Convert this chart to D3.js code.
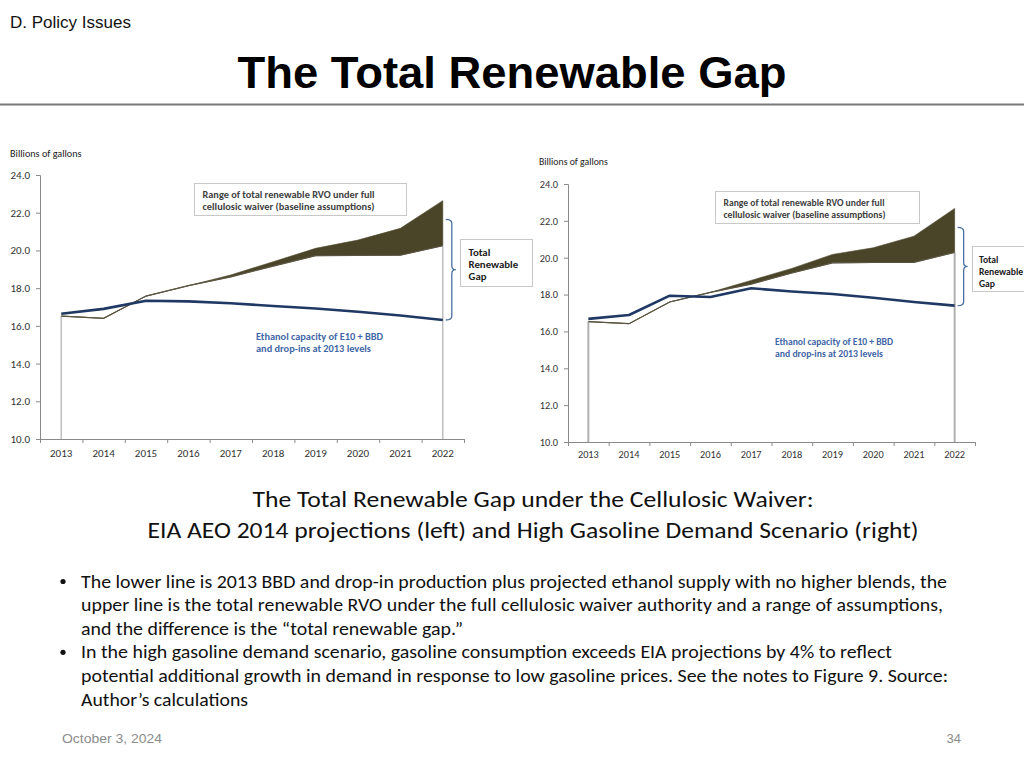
<!DOCTYPE html>
<html><head><meta charset="utf-8">
<script src="https://cdn.jsdelivr.net/npm/d3@7"></script>
<style>body{margin:0;background:#fff} svg{display:block}</style>
</head><body>
<svg id="c" width="1024" height="768"></svg>
<script>
// ---------- data ----------
const years = [2013, 2014, 2015, 2016, 2017, 2018, 2019, 2020, 2021, 2022];
const yTicks = [10, 12, 14, 16, 18, 20, 22, 24];

// Left: EIA AEO 2014 projections
const leftCapacity = [16.64, 16.90, 17.33, 17.30, 17.20, 17.05, 16.92, 16.75, 16.55, 16.31];
const leftRvoLow   = [16.52, 16.40, 17.58, 18.13, 18.60, 19.17, 19.72, 19.74, 19.75, 20.25];
const leftRvoHigh  = [16.52, 16.40, 17.58, 18.13, 18.70, 19.40, 20.11, 20.55, 21.17, 22.64];

// Right: High Gasoline Demand Scenario
const rightCapacity = [16.68, 16.89, 17.94, 17.87, 18.34, 18.17, 18.03, 17.83, 17.60, 17.40];
const rightRvoLow   = [16.53, 16.42, 17.60, 18.12, 18.57, 19.17, 19.72, 19.74, 19.75, 20.29];
const rightRvoHigh  = [16.53, 16.42, 17.60, 18.12, 18.77, 19.42, 20.18, 20.54, 21.17, 22.67];

const gapTopValue = 21.65;

const yAxisTitle = "Billions of gallons";
const rangeNote = ["Range of total renewable RVO under full", "cellulosic waiver (baseline assumptions)"];
const capacityNote = ["Ethanol capacity of E10 + BBD", "and drop-ins at 2013 levels"];
const gapNote = ["Total", "Renewable", "Gap"];

const sectionLabel = "D. Policy Issues";
const slideTitle = "The Total Renewable Gap";
const captionLines = [
  "The Total Renewable Gap under the Cellulosic Waiver:",
  "EIA AEO 2014 projections (left) and High Gasoline Demand Scenario (right)"
];
const bulletLines = [
  "The lower line is 2013 BBD and drop-in production plus projected ethanol supply with no higher blends, the",
  "upper line is the total renewable RVO under the full cellulosic waiver authority and a range of assumptions,",
  "and the difference is the \u201ctotal renewable gap.\u201d",
  "In the high gasoline demand scenario, gasoline consumption exceeds EIA projections by 4% to reflect",
  "potential additional growth in demand in response to low gasoline prices. See the notes to Figure 9. Source:",
  "Author\u2019s calculations"
];
const bulletStarts = [0, 3];
const footerDate = "October 3, 2024";
const pageNumber = "34";

// ---------- drawing ----------
const svg = d3.select("#c");
const chartFont = "Carlito, Lato, 'Open Sans', sans-serif";
const slideFont = "'Liberation Sans', Arial, Helvetica, sans-serif";

svg.append("text").attr("x", 10).attr("y", 28).attr("font-family", slideFont)
  .attr("font-size", 16).attr("textLength", 121).attr("lengthAdjust", "spacingAndGlyphs")
  .attr("fill", "#111").text(sectionLabel);
svg.append("text").attr("x", 512).attr("y", 88).attr("text-anchor", "middle")
  .attr("font-family", slideFont).attr("font-weight", "bold").attr("font-size", 45)
  .attr("textLength", 549).attr("lengthAdjust", "spacingAndGlyphs")
  .attr("fill", "#000").text(slideTitle);
svg.append("line").attr("x1", 0).attr("x2", 1024).attr("y1", 104.5).attr("y2", 104.5)
  .attr("stroke", "#7a7a7a").attr("stroke-width", 2);

function bracePath(x0, yTop, yBot, w) {
  const xm = x0 + w * 0.6, ym = (yTop + yBot) / 2;
  return `M${x0},${yTop} Q${xm},${yTop} ${xm},${yTop + 4} L${xm},${ym - 4} Q${xm},${ym} ${x0 + w},${ym}` +
         ` Q${xm},${ym} ${xm},${ym + 4} L${xm},${yBot - 4} Q${xm},${yBot} ${x0},${yBot}`;
}

function drawPanel(cfg, cap, low, high) {
  const x = d3.scaleBand().domain(years).range([cfg.x0, cfg.x1]);
  const xb = d3.scaleLinear().domain([0, years.length]).range([cfg.x0, cfg.x1]);
  const y = d3.scaleLinear().domain([10, 24]).range([cfg.yb, cfg.yt]);
  const cx = d => x(d) + x.bandwidth() / 2;
  const rows = years.map((yr, i) => ({ yr, cap: cap[i], low: low[i], high: high[i] }));
  const g = svg.append("g");

  g.append("text").attr("x", cfg.titleX).attr("y", cfg.titleY).attr("font-family", chartFont)
    .attr("font-size", cfg.titleFs).attr("fill", "#222").text(yAxisTitle);

  // gap area between low and high RVO
  g.append("path").datum(rows)
    .attr("d", d3.area().x(d => cx(d.yr)).y0(d => y(d.low)).y1(d => y(d.high)))
    .attr("fill", "#4a4429").attr("stroke", "#4a4429").attr("stroke-width", 0.6);

  // edges of the lower area
  [0, years.length - 1].forEach(i => {
    g.append("line").attr("x1", cx(years[i])).attr("x2", cx(years[i]))
      .attr("y1", y(low[i])).attr("y2", y(10))
      .attr("stroke", "#b0b0b0").attr("stroke-width", cfg.edgeW);
  });

  // lower RVO line
  g.append("path").datum(rows)
    .attr("d", d3.line().x(d => cx(d.yr)).y(d => y(d.low)))
    .attr("fill", "none").attr("stroke", "#5a5442").attr("stroke-width", 1.2);

  // ethanol capacity line
  g.append("path").datum(rows)
    .attr("d", d3.line().x(d => cx(d.yr)).y(d => y(d.cap)))
    .attr("fill", "none").attr("stroke", "#1f3864").attr("stroke-width", 2.6)
    .attr("stroke-linejoin", "round");

  // y axis
  const ya = g.append("g").attr("transform", `translate(${cfg.x0},0)`)
    .call(d3.axisLeft(y).tickValues(yTicks).tickFormat(d3.format(".1f")).tickSize(4).tickPadding(6));
  ya.select(".domain").attr("stroke", "#8a8a8a");
  ya.selectAll(".tick line").attr("stroke", "#8a8a8a");
  ya.selectAll("text").attr("font-family", chartFont).attr("font-size", cfg.fs).attr("fill", "#333");

  // x axis: boundary ticks + centered labels
  const xt = g.append("g").attr("transform", `translate(0,${cfg.yb})`)
    .call(d3.axisBottom(xb).tickValues(d3.range(years.length + 1)).tickFormat("").tickSize(4).tickSizeOuter(0));
  xt.select(".domain").attr("stroke", "#8a8a8a");
  xt.selectAll(".tick line").attr("stroke", "#8a8a8a");
  const xl = g.append("g").attr("transform", `translate(0,${cfg.yb})`)
    .call(d3.axisBottom(x).tickSize(0).tickPadding(cfg.xPad));
  xl.select(".domain").remove();
  xl.selectAll("text").attr("font-family", chartFont).attr("font-size", cfg.fs).attr("fill", "#333");

  // brace
  const last = years[years.length - 1];
  g.append("path")
    .attr("d", bracePath(cx(last) + 3, y(gapTopValue), y(cap[cap.length - 1]), cfg.braceW))
    .attr("fill", "none").attr("stroke", "#4a6fa5").attr("stroke-width", 1.3);

  // gap label box
  g.append("rect").attr("x", cfg.gapBox[0]).attr("y", cfg.gapBox[1])
    .attr("width", cfg.gapBox[2]).attr("height", cfg.gapBox[3])
    .attr("fill", "#fff").attr("stroke", "#c8c8c8");
  gapNote.forEach((t, i) => {
    g.append("text").attr("x", cfg.gapBox[0] + cfg.gapPad).attr("y", cfg.gapBox[1] + 16 + i * 12)
      .attr("font-family", chartFont).attr("font-weight", "bold").attr("font-size", cfg.gapFs)
      .attr("fill", "#1a1a1a").text(t);
  });

  // range note box
  g.append("rect").attr("x", cfg.rangeBox[0]).attr("y", cfg.rangeBox[1])
    .attr("width", cfg.rangeBox[2]).attr("height", cfg.rangeBox[3])
    .attr("fill", "#fff").attr("stroke", "#c8c8c8");
  rangeNote.forEach((t, i) => {
    g.append("text").attr("x", cfg.rangeBox[0] + 8).attr("y", cfg.rangeBox[1] + 14.5 + i * 11.5)
      .attr("font-family", chartFont).attr("font-weight", "bold").attr("font-size", 10.5)
      .attr("textLength", cfg.rangeW[i]).attr("lengthAdjust", "spacingAndGlyphs")
      .attr("fill", "#404040").text(t);
  });

  // capacity note
  capacityNote.forEach((t, i) => {
    g.append("text").attr("x", cfg.capNote[0]).attr("y", cfg.capNote[1] + i * 12)
      .attr("font-family", chartFont).attr("font-weight", "bold").attr("font-size", 10.5)
      .attr("textLength", cfg.capW[i]).attr("lengthAdjust", "spacingAndGlyphs")
      .attr("fill", "#3f66a6").text(t);
  });
}

drawPanel({
  x0: 40, x1: 464, yb: 439, yt: 175, fs: 11, xPad: 10, edgeW: 1.2,
  titleX: 10, titleY: 157, titleFs: 10.2, braceW: 10, gapFs: 10.8, gapPad: 8,
  gapBox: [460.5, 239.5, 72, 47],
  rangeBox: [194.5, 183.5, 212, 32], rangeW: [172, 172],
  capNote: [256, 340], capW: [127, 115]
}, leftCapacity, leftRvoLow, leftRvoHigh);

drawPanel({
  x0: 568, x1: 975, yb: 442, yt: 184, fs: 10.3, xPad: 9, edgeW: 2,
  titleX: 539, titleY: 165, titleFs: 9.8, braceW: 10, gapFs: 9.6, gapPad: 6.5,
  gapBox: [972.5, 246.5, 80, 45],
  rangeBox: [715.5, 191.5, 204, 32], rangeW: [161, 162],
  capNote: [775, 344.5], capW: [118, 108]
}, rightCapacity, rightRvoLow, rightRvoHigh);

// caption
const capW = [561, 771];
captionLines.forEach((t, i) => {
  svg.append("text").attr("x", 533).attr("y", 507 + i * 31).attr("text-anchor", "middle")
    .attr("font-family", chartFont).attr("font-size", 23)
    .attr("textLength", capW[i]).attr("lengthAdjust", "spacingAndGlyphs")
    .attr("fill", "#111").text(t);
});

// bullets
const bulletW = [866, 862, 382, 811, 867, 167];
bulletLines.forEach((t, i) => {
  svg.append("text").attr("x", 81).attr("y", 587.5 + i * 23.6)
    .attr("font-family", chartFont).attr("font-size", 19)
    .attr("textLength", bulletW[i]).attr("lengthAdjust", "spacingAndGlyphs")
    .attr("fill", "#111").text(t);
});
bulletStarts.forEach(i => {
  svg.append("circle").attr("cx", 63).attr("cy", 581.5 + i * 23.6).attr("r", 2.6).attr("fill", "#111");
});

// footer
svg.append("text").attr("x", 62).attr("y", 743).attr("font-family", slideFont)
  .attr("font-size", 13).attr("textLength", 100).attr("lengthAdjust", "spacingAndGlyphs")
  .attr("fill", "#8c8c8c").text(footerDate);
svg.append("text").attr("x", 961).attr("y", 743).attr("text-anchor", "end").attr("font-family", slideFont)
  .attr("font-size", 13).attr("fill", "#8c8c8c").text(pageNumber);
</script>
</body></html>
